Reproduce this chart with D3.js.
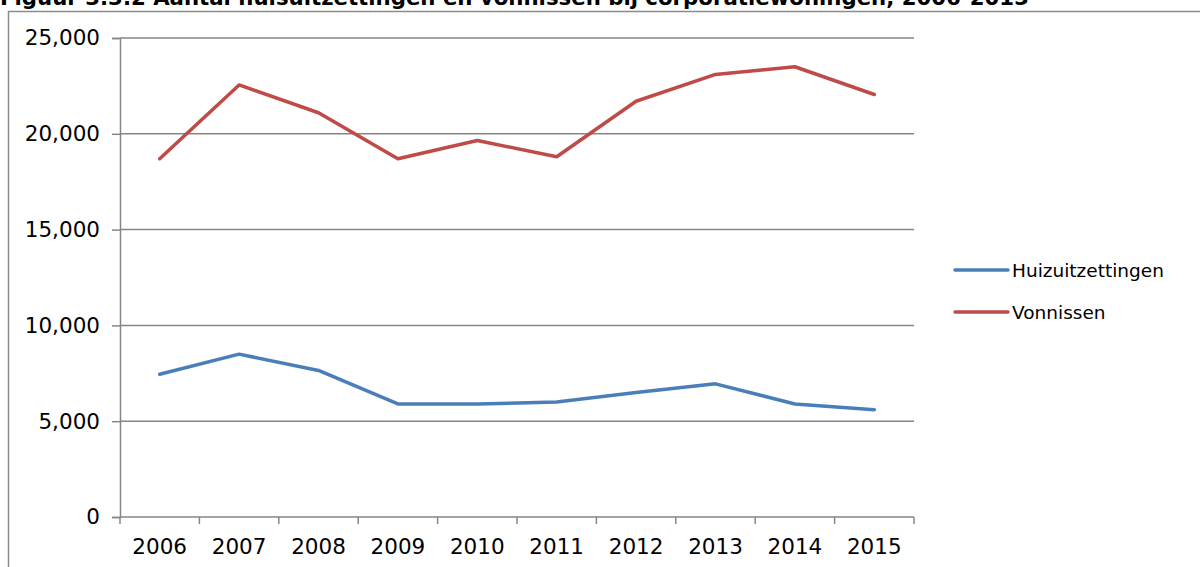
<!DOCTYPE html>
<html>
<head>
<meta charset="utf-8">
<script src="https://cdn.jsdelivr.net/npm/d3@7"></script>
<style>
  html, body { margin: 0; padding: 0; background: #fff; }
  svg { display: block; }
  text { font-family: "DejaVu Sans", Verdana, sans-serif; }
</style>
</head>
<body>
<svg id="chart" width="1200" height="567"></svg>
<script>
// Years on the horizontal axis
const years = ["2006", "2007", "2008", "2009", "2010", "2011", "2012", "2013", "2014", "2015"];
// Number of evictions (huisuitzettingen)
const huizuitzettingen = [7450, 8500, 7650, 5900, 5900, 6000, 6500, 6950, 5900, 5600];
// Number of court rulings (vonnissen)
const vonnissen = [18700, 22550, 21100, 18700, 19650, 18800, 21700, 23100, 23500, 22050];
// Y-axis tick values
const yTicks = [0, 5000, 10000, 15000, 20000, 25000];
const seriesNames = ["Huizuitzettingen", "Vonnissen"];
const seriesColors = ["#4a7ebb", "#be4b48"];

const svg = d3.select("#chart");
const margin = { left: 120, right: 914, top: 38, bottom: 517 };
const axisFont = 21.5;

// Title (runs off the top edge of the frame)
const title = svg.append("text")
  .attr("x", 0).attr("y", 5)
  .attr("font-weight", "bold")
  .attr("font-size", 21)
  .attr("fill", "#000")
  .text("Figuur 3.3.2 Aantal huisuitzettingen en vonnissen bij corporatiewoningen, 2006-2015");
const tw = title.node().getComputedTextLength();
if (tw > 0) title.attr("font-size", 21 * 1030 / tw);

// Outer chart frame
svg.append("rect")
  .attr("x", 8.5).attr("y", 11.5)
  .attr("width", 1200).attr("height", 600)
  .attr("fill", "none")
  .attr("stroke", "#8c8c8c")
  .attr("stroke-width", 1.5);

const x = d3.scaleBand().domain(years).range([margin.left, margin.right]);
const y = d3.scaleLinear().domain([0, 25000]).range([margin.bottom, margin.top]);

// Horizontal gridlines
svg.append("g")
  .selectAll("line")
  .data(yTicks.filter(d => d > 0))
  .join("line")
  .attr("x1", margin.left).attr("x2", margin.right)
  .attr("y1", d => y(d)).attr("y2", d => y(d))
  .attr("stroke", "#868686")
  .attr("stroke-width", 1.5);

// Y axis
const yAxis = svg.append("g")
  .attr("transform", `translate(${margin.left},0)`)
  .call(d3.axisLeft(y).tickValues(yTicks).tickFormat(d3.format(",")).tickSize(8).tickPadding(12));
yAxis.select(".domain").attr("stroke", "#868686").attr("stroke-width", 1.5);
yAxis.selectAll(".tick line").attr("stroke", "#868686").attr("stroke-width", 1.5);
yAxis.selectAll(".tick text")
  .attr("font-size", axisFont)
  .attr("font-family", "DejaVu Sans, Verdana, sans-serif")
  .attr("fill", "#000");

// X axis with tick marks on category boundaries
const xg = svg.append("g").attr("transform", `translate(0,${margin.bottom})`);
xg.append("line")
  .attr("x1", margin.left).attr("x2", margin.right)
  .attr("stroke", "#868686").attr("stroke-width", 1.5);
const boundaries = years.map(d => x(d)).concat([x(years[years.length - 1]) + x.bandwidth()]);
xg.selectAll("line.tk")
  .data(boundaries)
  .join("line")
  .attr("class", "tk")
  .attr("x1", d => d).attr("x2", d => d)
  .attr("y1", 0).attr("y2", 7)
  .attr("stroke", "#868686").attr("stroke-width", 1.5);
xg.selectAll("text")
  .data(years)
  .join("text")
  .attr("x", d => x(d) + x.bandwidth() / 2)
  .attr("y", 37)
  .attr("text-anchor", "middle")
  .attr("font-size", axisFont)
  .attr("fill", "#000")
  .text(d => d);

// Series lines
const line = d3.line()
  .x((d, i) => x(years[i]) + x.bandwidth() / 2)
  .y(d => y(d));
[huizuitzettingen, vonnissen].forEach((vals, i) => {
  svg.append("path")
    .datum(vals)
    .attr("d", line)
    .attr("fill", "none")
    .attr("stroke", seriesColors[i])
    .attr("stroke-width", 3.5)
    .attr("stroke-linejoin", "round")
    .attr("stroke-linecap", "round");
});

// Legend
const legend = svg.append("g");
seriesNames.forEach((name, i) => {
  const ly = 270 + i * 42;
  legend.append("line")
    .attr("x1", 955).attr("x2", 1008)
    .attr("y1", ly).attr("y2", ly)
    .attr("stroke", seriesColors[i])
    .attr("stroke-width", 3.5)
    .attr("stroke-linecap", "round");
  legend.append("text")
    .attr("x", 1012).attr("y", ly + 7)
    .attr("font-size", 18.5)
    .attr("fill", "#000")
    .text(name);
});
</script>
</body>
</html>
